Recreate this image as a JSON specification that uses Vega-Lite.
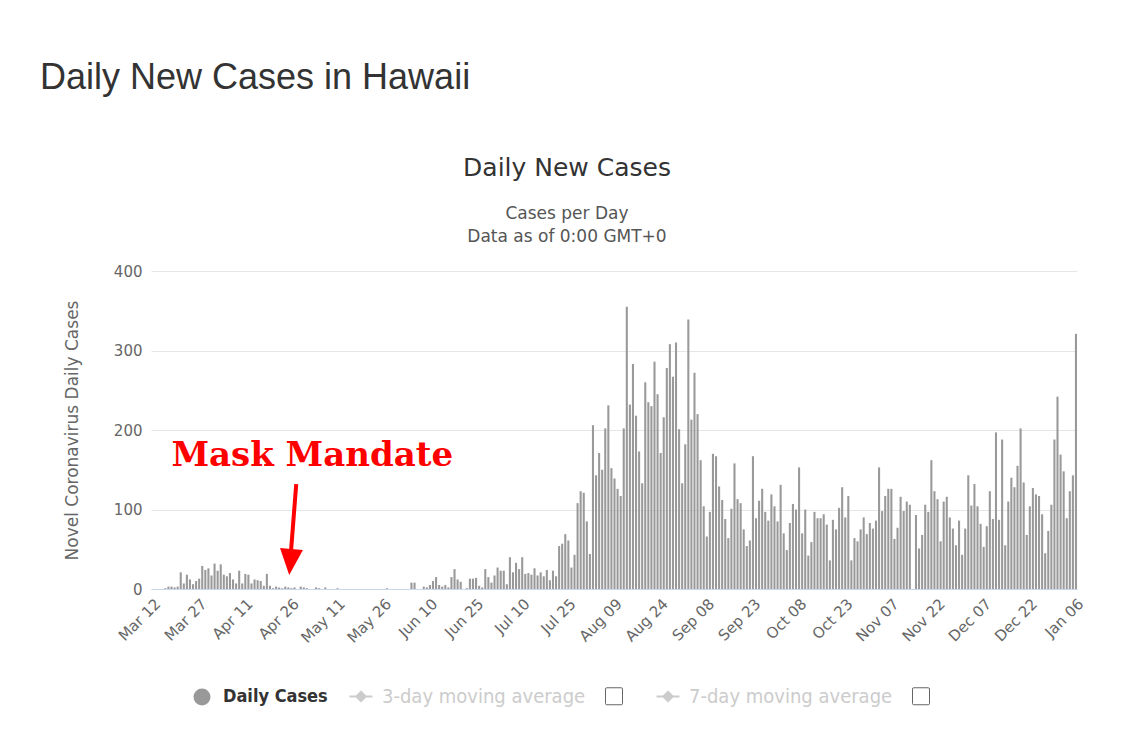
{
  "$schema": "https://vega.github.io/schema/vega-lite/v6.json",
  "autosize": {"type": "pad"},
  "padding": {"left": 40, "top": 60, "right": 0, "bottom": 0},
  "background": "#ffffff",
  "title": {
    "text": "Daily New Cases in Hawaii",
    "anchor": "start",
    "frame": "group",
    "dx": -111,
    "font": "Liberation Sans",
    "fontSize": 36,
    "fontWeight": "normal",
    "color": "#333333",
    "offset": 59
  },
  "config": {
    "view": {"stroke": null},
    "axis": {"labelFont": "DejaVu Sans", "titleFont": "DejaVu Sans"}
  },
  "datasets": {
    "cases": [
      {"date":"2020-03-12","cases":0},{"date":"2020-03-13","cases":0},{"date":"2020-03-14","cases":0},{"date":"2020-03-15","cases":0},{"date":"2020-03-16","cases":1},{"date":"2020-03-17","cases":3},{"date":"2020-03-18","cases":3},{"date":"2020-03-19","cases":2},{"date":"2020-03-20","cases":3},{"date":"2020-03-21","cases":21},{"date":"2020-03-22","cases":7},{"date":"2020-03-23","cases":18},{"date":"2020-03-24","cases":12},{"date":"2020-03-25","cases":6},{"date":"2020-03-26","cases":10},{"date":"2020-03-27","cases":13},{"date":"2020-03-28","cases":29},{"date":"2020-03-29","cases":24},{"date":"2020-03-30","cases":26},{"date":"2020-03-31","cases":17},
      {"date":"2020-04-01","cases":32},{"date":"2020-04-02","cases":23},{"date":"2020-04-03","cases":31},{"date":"2020-04-04","cases":18},{"date":"2020-04-05","cases":16},{"date":"2020-04-06","cases":20},{"date":"2020-04-07","cases":12},{"date":"2020-04-08","cases":7},{"date":"2020-04-09","cases":23},{"date":"2020-04-10","cases":7},{"date":"2020-04-11","cases":19},{"date":"2020-04-12","cases":18},{"date":"2020-04-13","cases":7},{"date":"2020-04-14","cases":12},{"date":"2020-04-15","cases":11},{"date":"2020-04-16","cases":10},{"date":"2020-04-17","cases":4},{"date":"2020-04-18","cases":19},{"date":"2020-04-19","cases":4},{"date":"2020-04-20","cases":1},{"date":"2020-04-21","cases":3},{"date":"2020-04-22","cases":2},{"date":"2020-04-23","cases":1},{"date":"2020-04-24","cases":3},{"date":"2020-04-25","cases":2},{"date":"2020-04-26","cases":1},{"date":"2020-04-27","cases":2},{"date":"2020-04-28","cases":0},{"date":"2020-04-29","cases":3},{"date":"2020-04-30","cases":2},
      {"date":"2020-05-01","cases":1},{"date":"2020-05-02","cases":0},{"date":"2020-05-03","cases":0},{"date":"2020-05-04","cases":2},{"date":"2020-05-05","cases":1},{"date":"2020-05-06","cases":0},{"date":"2020-05-07","cases":2},{"date":"2020-05-08","cases":0},{"date":"2020-05-09","cases":0},{"date":"2020-05-10","cases":0},{"date":"2020-05-11","cases":1},{"date":"2020-05-12","cases":0},{"date":"2020-05-13","cases":0},{"date":"2020-05-14","cases":0},{"date":"2020-05-15","cases":0},{"date":"2020-05-16","cases":0},{"date":"2020-05-17","cases":0},{"date":"2020-05-18","cases":0},{"date":"2020-05-19","cases":0},{"date":"2020-05-20","cases":0},{"date":"2020-05-21","cases":0},{"date":"2020-05-22","cases":0},{"date":"2020-05-23","cases":0},{"date":"2020-05-24","cases":0},{"date":"2020-05-25","cases":0},{"date":"2020-05-26","cases":0},{"date":"2020-05-27","cases":1},{"date":"2020-05-28","cases":0},{"date":"2020-05-29","cases":0},{"date":"2020-05-30","cases":0},{"date":"2020-05-31","cases":0},
      {"date":"2020-06-01","cases":0},{"date":"2020-06-02","cases":0},{"date":"2020-06-03","cases":0},{"date":"2020-06-04","cases":8},{"date":"2020-06-05","cases":8},{"date":"2020-06-06","cases":0},{"date":"2020-06-07","cases":0},{"date":"2020-06-08","cases":3},{"date":"2020-06-09","cases":2},{"date":"2020-06-10","cases":5},{"date":"2020-06-11","cases":10},{"date":"2020-06-12","cases":15},{"date":"2020-06-13","cases":5},{"date":"2020-06-14","cases":3},{"date":"2020-06-15","cases":5},{"date":"2020-06-16","cases":2},{"date":"2020-06-17","cases":15},{"date":"2020-06-18","cases":25},{"date":"2020-06-19","cases":12},{"date":"2020-06-20","cases":9},{"date":"2020-06-21","cases":0},{"date":"2020-06-22","cases":1},{"date":"2020-06-23","cases":13},{"date":"2020-06-24","cases":13},{"date":"2020-06-25","cases":14},{"date":"2020-06-26","cases":4},{"date":"2020-06-27","cases":2},{"date":"2020-06-28","cases":25},{"date":"2020-06-29","cases":15},{"date":"2020-06-30","cases":8},
      {"date":"2020-07-01","cases":17},{"date":"2020-07-02","cases":27},{"date":"2020-07-03","cases":23},{"date":"2020-07-04","cases":23},{"date":"2020-07-05","cases":6},{"date":"2020-07-06","cases":40},{"date":"2020-07-07","cases":21},{"date":"2020-07-08","cases":33},{"date":"2020-07-09","cases":25},{"date":"2020-07-10","cases":40},{"date":"2020-07-11","cases":19},{"date":"2020-07-12","cases":20},{"date":"2020-07-13","cases":18},{"date":"2020-07-14","cases":26},{"date":"2020-07-15","cases":17},{"date":"2020-07-16","cases":21},{"date":"2020-07-17","cases":16},{"date":"2020-07-18","cases":24},{"date":"2020-07-19","cases":11},{"date":"2020-07-20","cases":23},{"date":"2020-07-21","cases":16},{"date":"2020-07-22","cases":54},{"date":"2020-07-23","cases":57},{"date":"2020-07-24","cases":69},{"date":"2020-07-25","cases":61},{"date":"2020-07-26","cases":27},{"date":"2020-07-27","cases":43},{"date":"2020-07-28","cases":108},{"date":"2020-07-29","cases":123},{"date":"2020-07-30","cases":121},{"date":"2020-07-31","cases":85},
      {"date":"2020-08-01","cases":44},{"date":"2020-08-02","cases":206},{"date":"2020-08-03","cases":143},{"date":"2020-08-04","cases":171},{"date":"2020-08-05","cases":150},{"date":"2020-08-06","cases":202},{"date":"2020-08-07","cases":231},{"date":"2020-08-08","cases":152},{"date":"2020-08-09","cases":139},{"date":"2020-08-10","cases":126},{"date":"2020-08-11","cases":117},{"date":"2020-08-12","cases":202},{"date":"2020-08-13","cases":355},{"date":"2020-08-14","cases":232},{"date":"2020-08-15","cases":283},{"date":"2020-08-16","cases":218},{"date":"2020-08-17","cases":173},{"date":"2020-08-18","cases":133},{"date":"2020-08-19","cases":260},{"date":"2020-08-20","cases":235},{"date":"2020-08-21","cases":230},{"date":"2020-08-22","cases":286},{"date":"2020-08-23","cases":245},{"date":"2020-08-24","cases":171},{"date":"2020-08-25","cases":216},{"date":"2020-08-26","cases":278},{"date":"2020-08-27","cases":308},{"date":"2020-08-28","cases":267},{"date":"2020-08-29","cases":310},{"date":"2020-08-30","cases":201},{"date":"2020-08-31","cases":133},
      {"date":"2020-09-01","cases":182},{"date":"2020-09-02","cases":339},{"date":"2020-09-03","cases":213},{"date":"2020-09-04","cases":272},{"date":"2020-09-05","cases":220},{"date":"2020-09-06","cases":162},{"date":"2020-09-07","cases":104},{"date":"2020-09-08","cases":66},{"date":"2020-09-09","cases":97},{"date":"2020-09-10","cases":170},{"date":"2020-09-11","cases":167},{"date":"2020-09-12","cases":129},{"date":"2020-09-13","cases":112},{"date":"2020-09-14","cases":88},{"date":"2020-09-15","cases":64},{"date":"2020-09-16","cases":101},{"date":"2020-09-17","cases":158},{"date":"2020-09-18","cases":113},{"date":"2020-09-19","cases":108},{"date":"2020-09-20","cases":75},{"date":"2020-09-21","cases":54},{"date":"2020-09-22","cases":61},{"date":"2020-09-23","cases":167},{"date":"2020-09-24","cases":89},{"date":"2020-09-25","cases":111},{"date":"2020-09-26","cases":126},{"date":"2020-09-27","cases":97},{"date":"2020-09-28","cases":86},{"date":"2020-09-29","cases":119},{"date":"2020-09-30","cases":104},
      {"date":"2020-10-01","cases":85},{"date":"2020-10-02","cases":131},{"date":"2020-10-03","cases":70},{"date":"2020-10-04","cases":49},{"date":"2020-10-05","cases":83},{"date":"2020-10-06","cases":107},{"date":"2020-10-07","cases":100},{"date":"2020-10-08","cases":153},{"date":"2020-10-09","cases":70},{"date":"2020-10-10","cases":100},{"date":"2020-10-11","cases":42},{"date":"2020-10-12","cases":59},{"date":"2020-10-13","cases":97},{"date":"2020-10-14","cases":89},{"date":"2020-10-15","cases":89},{"date":"2020-10-16","cases":94},{"date":"2020-10-17","cases":81},{"date":"2020-10-18","cases":36},{"date":"2020-10-19","cases":87},{"date":"2020-10-20","cases":75},{"date":"2020-10-21","cases":102},{"date":"2020-10-22","cases":128},{"date":"2020-10-23","cases":90},{"date":"2020-10-24","cases":117},{"date":"2020-10-25","cases":36},{"date":"2020-10-26","cases":64},{"date":"2020-10-27","cases":60},{"date":"2020-10-28","cases":75},{"date":"2020-10-29","cases":90},{"date":"2020-10-30","cases":69},{"date":"2020-10-31","cases":83},
      {"date":"2020-11-01","cases":76},{"date":"2020-11-02","cases":86},{"date":"2020-11-03","cases":153},{"date":"2020-11-04","cases":98},{"date":"2020-11-05","cases":117},{"date":"2020-11-06","cases":126},{"date":"2020-11-07","cases":126},{"date":"2020-11-08","cases":63},{"date":"2020-11-09","cases":77},{"date":"2020-11-10","cases":116},{"date":"2020-11-11","cases":98},{"date":"2020-11-12","cases":110},{"date":"2020-11-13","cases":106},{"date":"2020-11-14","cases":0},{"date":"2020-11-15","cases":93},{"date":"2020-11-16","cases":51},{"date":"2020-11-17","cases":68},{"date":"2020-11-18","cases":106},{"date":"2020-11-19","cases":97},{"date":"2020-11-20","cases":162},{"date":"2020-11-21","cases":123},{"date":"2020-11-22","cases":113},{"date":"2020-11-23","cases":60},{"date":"2020-11-24","cases":110},{"date":"2020-11-25","cases":116},{"date":"2020-11-26","cases":90},{"date":"2020-11-27","cases":76},{"date":"2020-11-28","cases":55},{"date":"2020-11-29","cases":86},{"date":"2020-11-30","cases":43},
      {"date":"2020-12-01","cases":76},{"date":"2020-12-02","cases":143},{"date":"2020-12-03","cases":105},{"date":"2020-12-04","cases":132},{"date":"2020-12-05","cases":104},{"date":"2020-12-06","cases":82},{"date":"2020-12-07","cases":53},{"date":"2020-12-08","cases":79},{"date":"2020-12-09","cases":123},{"date":"2020-12-10","cases":88},{"date":"2020-12-11","cases":197},{"date":"2020-12-12","cases":87},{"date":"2020-12-13","cases":188},{"date":"2020-12-14","cases":55},{"date":"2020-12-15","cases":110},{"date":"2020-12-16","cases":140},{"date":"2020-12-17","cases":128},{"date":"2020-12-18","cases":155},{"date":"2020-12-19","cases":202},{"date":"2020-12-20","cases":134},{"date":"2020-12-21","cases":68},{"date":"2020-12-22","cases":104},{"date":"2020-12-23","cases":127},{"date":"2020-12-24","cases":119},{"date":"2020-12-25","cases":117},{"date":"2020-12-26","cases":94},{"date":"2020-12-27","cases":45},{"date":"2020-12-28","cases":73},{"date":"2020-12-29","cases":106},{"date":"2020-12-30","cases":188},{"date":"2020-12-31","cases":242},
      {"date":"2021-01-01","cases":169},{"date":"2021-01-02","cases":148},{"date":"2021-01-03","cases":89},{"date":"2021-01-04","cases":123},{"date":"2021-01-05","cases":143},{"date":"2021-01-06","cases":321}
    ],
    "label": [
      {"date":"2020-05-03T10:00:00Z","value":155,"text":"Mask Mandate"}
    ],
    "arrow": [
      {"date":"2020-04-28T05:00:00Z","value":132,"date2":"2020-04-26T11:00:00Z","value2":45}
    ],
    "head": [
      {"date":"2020-04-26T07:00:00Z","value":34}
    ]
  },
  "vconcat": [
    {
      "width": 926,
      "height": 318,
      "title": {
        "text": "Daily New Cases",
        "subtitle": ["Cases per Day", "Data as of 0:00 GMT+0"],
        "anchor": "middle",
        "dx": -47,
        "font": "DejaVu Sans",
        "fontSize": 25,
        "fontWeight": "normal",
        "color": "#333333",
        "subtitleFont": "DejaVu Sans",
        "subtitleFontSize": 17,
        "subtitleColor": "#555555",
        "subtitlePadding": 25,
        "subtitleLineHeight": 23,
        "offset": 19
      },
      "layer": [
        {
          "data": {"name": "cases"},
          "mark": {"type": "bar", "timeUnitBandSize": 0.68, "color": "#999999"},
          "encoding": {
            "x": {
              "field": "date",
              "timeUnit": "utcyearmonthdate",
              "type": "temporal",
              "scale": {"domain": [{"year": 2020, "month": 3, "date": 12, "utc": true}, {"year": 2021, "month": 1, "date": 7, "utc": true}], "nice": false},
              "axis": {
                "title": null,
                "values": [
                  {"year":2020,"month":3,"date":12,"hours":12,"utc":true},
                  {"year":2020,"month":3,"date":27,"hours":12,"utc":true},
                  {"year":2020,"month":4,"date":11,"hours":12,"utc":true},
                  {"year":2020,"month":4,"date":26,"hours":12,"utc":true},
                  {"year":2020,"month":5,"date":11,"hours":12,"utc":true},
                  {"year":2020,"month":5,"date":26,"hours":12,"utc":true},
                  {"year":2020,"month":6,"date":10,"hours":12,"utc":true},
                  {"year":2020,"month":6,"date":25,"hours":12,"utc":true},
                  {"year":2020,"month":7,"date":10,"hours":12,"utc":true},
                  {"year":2020,"month":7,"date":25,"hours":12,"utc":true},
                  {"year":2020,"month":8,"date":9,"hours":12,"utc":true},
                  {"year":2020,"month":8,"date":24,"hours":12,"utc":true},
                  {"year":2020,"month":9,"date":8,"hours":12,"utc":true},
                  {"year":2020,"month":9,"date":23,"hours":12,"utc":true},
                  {"year":2020,"month":10,"date":8,"hours":12,"utc":true},
                  {"year":2020,"month":10,"date":23,"hours":12,"utc":true},
                  {"year":2020,"month":11,"date":7,"hours":12,"utc":true},
                  {"year":2020,"month":11,"date":22,"hours":12,"utc":true},
                  {"year":2020,"month":12,"date":7,"hours":12,"utc":true},
                  {"year":2020,"month":12,"date":22,"hours":12,"utc":true},
                  {"year":2021,"month":1,"date":6,"hours":12,"utc":true}
                ],
                "labelExpr": "utcFormat(datum.value, '%b %d')",
                "labelAngle": -45,
                "labelFontSize": 15,
                "labelColor": "#666666",
                "labelPadding": 7,
                "labelOverlap": false,
                "labelFlush": false,
                "ticks": false,
                "grid": false,
                "domainColor": "#ccd6eb",
                "domainWidth": 1
              }
            },
            "y": {
              "field": "cases",
              "type": "quantitative",
              "scale": {"domain": [0, 400], "nice": false},
              "axis": {
                "title": "Novel Coronavirus Daily Cases",
                "titleFontSize": 17,
                "titleFontWeight": "normal",
                "titleColor": "#666666",
                "titlePadding": 32,
                "values": [0, 100, 200, 300, 400],
                "labelFontSize": 15,
                "labelColor": "#666666",
                "labelPadding": 9,
                "ticks": false,
                "domain": false,
                "gridColor": "#e6e6e6"
              }
            },
            "color": {
              "datum": "Daily Cases",
              "type": "nominal",
              "scale": {
                "domain": ["Daily Cases", "3-day moving average", "cb3", "7-day moving average", "cb7"],
                "range": ["#999999", "#cccccc", "#ffffff", "#cccccc", "#ffffff"]
              },
              "legend": {
                "title": null,
                "orient": "none",
                "legendX": 41,
                "legendY": 415,
                "direction": "horizontal",
                "columns": 5,
                "columnPadding": 17,
                "symbolSize": 289,
                "labelOffset": 11,
                "labelFont": "DejaVu Sans Condensed, Liberation Sans Narrow, DejaVu Sans",
                "labelFontSize": {"expr": "datum.label == 'Daily Cases' ? 18 : 20"},
                "labelLimit": 400,
                "labelExpr": "(datum.label == 'cb3' || datum.label == 'cb7') ? '' : datum.label",
                "labelColor": {"expr": "datum.label == 'Daily Cases' ? '#333333' : '#cccccc'"},
                "labelFontWeight": {"expr": "datum.label == 'Daily Cases' ? 'bold' : 'normal'"},
                "symbolType": {"expr": "datum.value == 'Daily Cases' ? 'circle' : ((datum.value == 'cb3' || datum.value == 'cb7') ? 'M-0.85,-1H0.85Q1,-1 1,-0.85V0.85Q1,1 0.85,1H-0.85Q-1,1 -1,0.85V-0.85Q-1,-1 -0.85,-1Z' : 'M-1.35,0H1.35M0,-0.55L0.55,0L0,0.55L-0.55,0Z')"},
                "symbolStrokeColor": {"expr": "datum.value == 'Daily Cases' ? '#999999' : ((datum.value == 'cb3' || datum.value == 'cb7') ? '#666666' : '#cccccc')"},
                "symbolStrokeWidth": {"expr": "datum.value == 'Daily Cases' ? 0 : ((datum.value == 'cb3' || datum.value == 'cb7') ? 1 : 2)"},
                "symbolOpacity": 1
              }
            }
          }
        },
        {
          "data": {"name": "label"},
          "mark": {"type": "text", "font": "DejaVu Serif", "fontWeight": "bold", "fontSize": 34, "color": "#ff0000", "align": "center", "baseline": "alphabetic"},
          "encoding": {
            "x": {"field": "date", "type": "temporal"},
            "y": {"field": "value", "type": "quantitative"},
            "text": {"field": "text"}
          }
        },
        {
          "data": {"name": "arrow"},
          "mark": {"type": "rule", "color": "#ff0000", "strokeWidth": 4},
          "encoding": {
            "x": {"field": "date", "type": "temporal"},
            "y": {"field": "value", "type": "quantitative"},
            "x2": {"field": "date2"},
            "y2": {"field": "value2"}
          }
        },
        {
          "data": {"name": "head"},
          "mark": {"type": "point", "shape": "M-1,-1.13L1,-1.13L0,1.13Z", "size": 529, "filled": true, "color": "#ff0000", "opacity": 1, "angle": 5},
          "encoding": {
            "x": {"field": "date", "type": "temporal"},
            "y": {"field": "value", "type": "quantitative"}
          }
        }
      ]
    }
  ]
}
